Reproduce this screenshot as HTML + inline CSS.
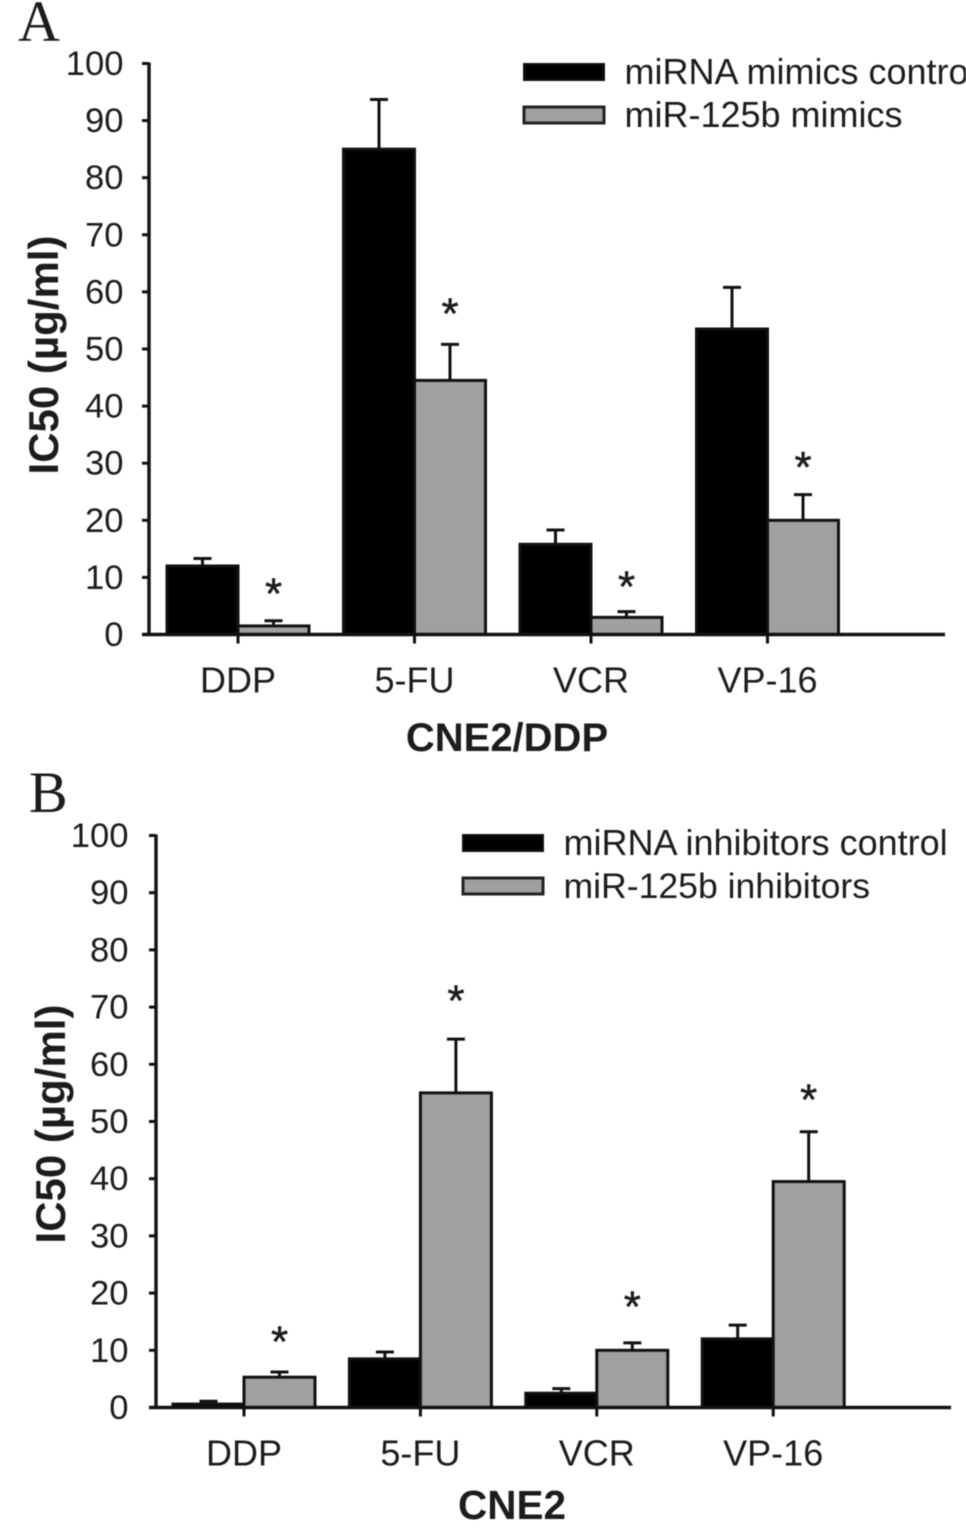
<!DOCTYPE html>
<html>
<head>
<meta charset="utf-8">
<title>IC50 bar charts</title>
<style>
html,body{margin:0;padding:0;background:#fff;width:966px;height:1535px;overflow:hidden}
svg{display:block;position:absolute;left:0;top:0}
text{font-family:"Liberation Sans",sans-serif;fill:#1c1c1c}
#chart{filter:blur(0.5px)}
</style>
</head>
<body>
<svg id="chart" width="966" height="1535" viewBox="0 0 966 1535" xmlns="http://www.w3.org/2000/svg">
  <text x="18" y="41" style="font-family:'Liberation Serif',serif;font-size:58px">A</text>
  <text x="29" y="812" style="font-family:'Liberation Serif',serif;font-size:58px">B</text>
  <text transform="translate(58,355) rotate(-90)" text-anchor="middle" font-weight="bold" font-size="42">IC50 (µg/ml)</text>
  <text transform="translate(65,1124) rotate(-90)" text-anchor="middle" font-weight="bold" font-size="42">IC50 (µg/ml)</text>
  <text x="507" y="751" text-anchor="middle" font-weight="bold" font-size="40">CNE2/DDP</text>
  <text x="512" y="1519" text-anchor="middle" font-weight="bold" font-size="40.5">CNE2</text>
  <rect x="524" y="64" width="80" height="16" fill="#000" stroke="#111" stroke-width="2"/>
  <rect x="524" y="107" width="80" height="16" fill="#a0a0a0" stroke="#222" stroke-width="3"/>
  <text x="624.5" y="84" font-size="36">miRNA mimics control</text>
  <text x="624.5" y="127" font-size="36">miR-125b mimics</text>
  <rect x="463" y="835" width="80" height="16" fill="#000" stroke="#111" stroke-width="2"/>
  <rect x="463" y="878" width="80" height="16" fill="#a0a0a0" stroke="#222" stroke-width="3"/>
  <text x="563.5" y="855" font-size="36">miRNA inhibitors control</text>
  <text x="563.5" y="898" font-size="35.6">miR-125b inhibitors</text>
</svg>
<script>
const categories = ["DDP", "5-FU", "VCR", "VP-16"];
const yTicks = [0, 10, 20, 30, 40, 50, 60, 70, 80, 90, 100];

const mimicsControl = [12, 85, 15.8, 53.5];
const mimicsControlError = [1.3, 8.7, 2.5, 7.3];
const mimicsTreated = [1.5, 44.5, 3, 20];
const mimicsTreatedError = [0.9, 6.3, 1, 4.5];
const mimicsStars = [8.2, 57.3, 9.5, 30.4];

const inhibitorsControl = [0.6, 8.5, 2.5, 12];
const inhibitorsControlError = [0.5, 1.2, 0.8, 2.4];
const inhibitorsTreated = [5.3, 55, 10, 39.5];
const inhibitorsTreatedError = [0.9, 9.4, 1.3, 8.7];
const inhibitorsStars = [12.6, 72.2, 18.7, 54.9];

const svg = document.getElementById('chart');
const NS = 'http://www.w3.org/2000/svg';

function make(tag, attrs, parent) {
  const el = document.createElementNS(NS, tag);
  for (const k in attrs) el.setAttribute(k, attrs[k]);
  parent.appendChild(el);
  return el;
}

function drawPanel(id, cfg, control, controlErr, treated, treatedErr, stars) {
  const g = make('g', {}, svg);
  
  
  const yScale = v => cfg.y0 - v * (cfg.y0 - cfg.y100) / 100;
  const xCenter = i => cfg.firstCenter + i * cfg.step;
  const ink = '#111';

  function drawBar(i, value, err, side, fill, label) {
    const xLeft = side < 0 ? xCenter(i) - cfg.barWidth : xCenter(i);
    const mid = xLeft + cfg.barWidth / 2;
    const top = yScale(value);
    const errTop = yScale(value + err);
    const stem = make('line', {x1: mid, x2: mid, y1: top, y2: errTop, stroke: ink, 'stroke-width': 3}, g);
    
    
    const cap = make('line', {x1: mid - 9, x2: mid + 9, y1: errTop, y2: errTop, stroke: ink, 'stroke-width': 3}, g);
    
    
    const bar = make('rect', {x: xLeft, y: top, width: cfg.barWidth, height: cfg.y0 - top, fill: fill, stroke: ink, 'stroke-width': 3}, g);
    
    
  }

  categories.forEach((cat, i) => {
    const slug = id + '-' + cat.toLowerCase();
    drawBar(i, control[i], controlErr[i], -1, '#000', slug + '-control');
    drawBar(i, treated[i], treatedErr[i], 1, '#a0a0a0', slug + '-treated');

    const star = make('text', {x: xCenter(i) + cfg.barWidth / 2, y: yScale(stars[i]) + 21, 'text-anchor': 'middle', 'font-size': 44, stroke: '#1c1c1c', 'stroke-width': 0.5}, g);
    star.textContent = '*';
    
    

    const tick = make('line', {x1: xCenter(i), x2: xCenter(i), y1: cfg.y0, y2: cfg.y0 + 9, stroke: ink, 'stroke-width': 3}, g);
    
    

    const lab = make('text', {x: xCenter(i), y: cfg.y0 + 58, 'text-anchor': 'middle', 'font-size': 36}, g);
    lab.textContent = cat;
    
    
  });

  yTicks.forEach(v => {
    const y = yScale(v);
    const tick = make('line', {x1: cfg.axisX - 7, x2: cfg.axisX, y1: y, y2: y, stroke: ink, 'stroke-width': 3}, g);
    
    
    const lab = make('text', {x: cfg.axisX - cfg.labelGap, y: y + 11.5, 'text-anchor': 'end', 'font-size': 34.6}, g);
    lab.textContent = String(v);
    
    
  });

  const yAxis = make('line', {x1: cfg.axisX, x2: cfg.axisX, y1: cfg.y100 - 1, y2: cfg.y0 + 1, stroke: ink, 'stroke-width': 3.4}, g);
  
  
  const xAxis = make('line', {x1: cfg.axisX - 7, x2: cfg.axisEnd, y1: cfg.y0, y2: cfg.y0, stroke: ink, 'stroke-width': 3.4}, g);
  
  
}

drawPanel('panel-a', {y0: 634.5, y100: 63.5, axisX: 149, axisEnd: 945, firstCenter: 238, step: 176.5, barWidth: 71, labelGap: 25.5},
  mimicsControl, mimicsControlError, mimicsTreated, mimicsTreatedError, mimicsStars);
drawPanel('panel-b', {y0: 1407.5, y100: 835.5, axisX: 156, axisEnd: 951, firstCenter: 244, step: 176.4, barWidth: 71, labelGap: 27.5},
  inhibitorsControl, inhibitorsControlError, inhibitorsTreated, inhibitorsTreatedError, inhibitorsStars);
</script>
</body>
</html>
